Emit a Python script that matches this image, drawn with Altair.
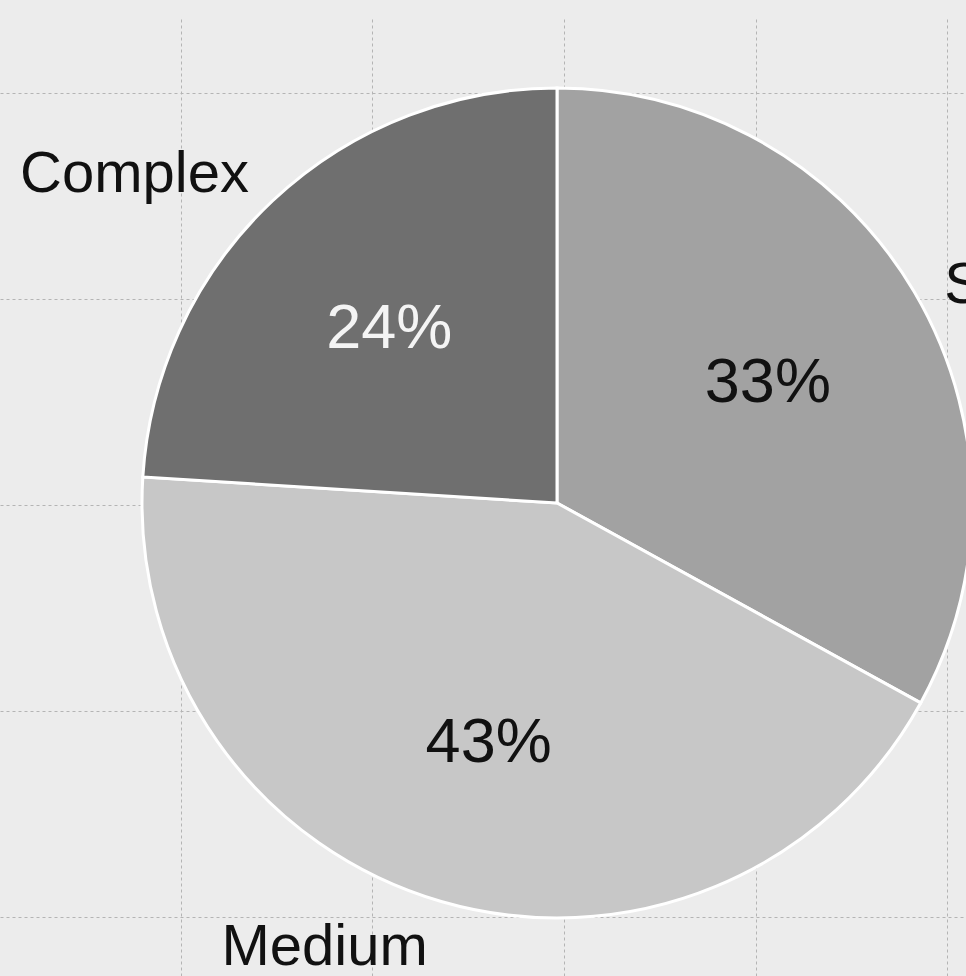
import altair as alt
import pandas as pd

# data
categories = ["Simple", "Medium", "Complex"]
shares = [33, 43, 24]
pct_labels = ["33%", "43%", "24%"]
slice_colors = ["#a2a2a2", "#c7c7c7", "#6f6f6f"]
pct_colors = ["#111111", "#111111", "#f4f4f4"]

grid_cols = [0, 1, 2, 3, 4]
grid_rows = [0, 1, 2, 3, 4]

df = pd.DataFrame({
    "category": categories,
    "share": shares,
    "pct": pct_labels,
    "order": list(range(len(categories))),
    "tcolor": pct_colors,
})
grid_df = pd.DataFrame({"gx": grid_cols, "gy": grid_rows})

FONT = "Helvetica, Liberation Sans, Arial, sans-serif"
CX, CY = 557, 485
THETA_SCALE = alt.Scale(domain=[0, sum(shares)])

grid = alt.Chart(grid_df).mark_point(opacity=0).encode(
    x=alt.X("gx:Q", scale=alt.Scale(domain=[-0.945, 4.099], nice=False, zero=False),
            axis=alt.Axis(values=grid_cols, grid=True, labels=False, ticks=False,
                          domain=False, title=None, gridColor="#b4b4b4",
                          gridDash=[3, 3], gridWidth=1)),
    y=alt.Y("gy:Q", scale=alt.Scale(domain=[-0.364, 4.286], nice=False, zero=False, reverse=True),
            axis=alt.Axis(values=grid_rows, grid=True, labels=False, ticks=False,
                          domain=False, title=None, gridColor="#b4b4b4",
                          gridDash=[3, 3], gridWidth=1)),
)

base = alt.Chart(df).transform_window(
    cum="sum(share)", sort=[alt.SortField("order")], frame=[None, 0]
).transform_calculate(
    start="datum.cum - datum.share",
    mid="datum.cum - datum.share / 2",
).encode(
    x=alt.value(CX),
    y=alt.value(CY),
)

arcs = base.mark_arc(outerRadius=415, stroke="white", strokeWidth=3).encode(
    theta=alt.Theta("start:Q", scale=THETA_SCALE),
    theta2="cum:Q",
    color=alt.Color("category:N", scale=alt.Scale(domain=categories, range=slice_colors),
                    legend=None),
)

tbase = base.encode(theta=alt.Theta("mid:Q", scale=THETA_SCALE))

pct = tbase.mark_text(radius=245, fontSize=63, font=FONT, baseline="middle", align="center",
                      dy=5).encode(
    text="pct:N",
    color=alt.Color("tcolor:N", scale=None),
)

lab_simple = tbase.transform_filter(alt.datum.category == "Simple").mark_text(
    radius=450, fontSize=58, font=FONT, align="left", baseline="middle", dy=12,
    color="#111111").encode(text="category:N")

lab_medium = tbase.transform_filter(alt.datum.category == "Medium").mark_text(
    radius=463, fontSize=58, font=FONT, align="right", baseline="middle",
    color="#111111").encode(text="category:N")

lab_complex = tbase.transform_filter(alt.datum.category == "Complex").mark_text(
    radius=450, fontSize=58, font=FONT, align="right", baseline="middle",
    color="#111111").encode(text="category:N")

chart = alt.layer(grid, arcs, pct, lab_simple, lab_medium, lab_complex).properties(
    width=966, height=958,
    padding={"top": 18, "left": 0, "right": 0, "bottom": 0},
    autosize=alt.AutoSizeParams(type="none"),
    background="#ececec",
).configure_view(stroke=None)

chart.save("out.html", embed_options={"renderer": "svg", "actions": False})
